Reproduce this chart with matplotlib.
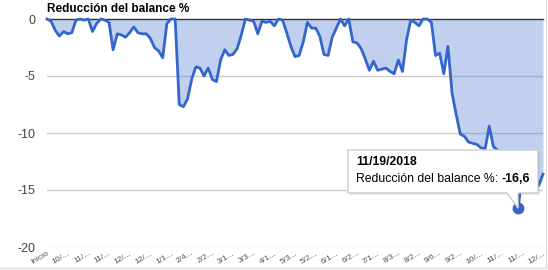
import matplotlib
matplotlib.use("Agg")
import matplotlib.pyplot as plt
from matplotlib.patches import Polygon
import numpy as np

plt.rcParams['font.family'] = ['Liberation Sans', 'DejaVu Sans']

# ---------------- data ----------------
title = "Reducción del balance %"
tick_labels = ["Inicio", "10/...", "11/...", "11/...", "12/...", "12/...", "1/1...",
               "2/4...", "2/2...", "3/1...", "3/3...", "4/1...", "5/3...", "5/2...",
               "6/1...", "6/2...", "7/1...", "8/3...", "8/2...", "9/6...", "9/2...",
               "10/...", "11/...", "11/...", "12/..."]
drawdown = [0, -0.2, -1.0, -1.5, -1.1, -1.3, -1.2, -0.1, 0, -0.1,
            0, -1.1, -0.4, 0, -0.1, -0.3, -2.7, -1.3, -1.4, -1.6,
            -1.2, -0.7, -1.2, -1.3, -1.3, -1.7, -2.5, -2.8, -3.4, -0.4,
            0, 0, -7.5, -7.7, -7.0, -5.3, -4.2, -4.3, -5.0, -4.3,
            -5.3, -5.5, -3.6, -2.7, -3.2, -3.1, -2.6, -1.4, 0, -0.1,
            -0.2, -1.3, -0.2, -0.3, -0.2, -0.6, 0, -0.1, -1.2, -2.4,
            -3.3, -3.2, -2.0, -0.3, -0.8, -0.8, -1.5, -3.1, -3.2, -1.6,
            -0.8, 0, -0.6, 0, -2.0, -2.1, -2.6, -3.5, -4.5, -3.7,
            -4.5, -4.4, -4.3, -4.6, -4.8, -3.6, -4.6, -1.8, -0.1, -0.3,
            -0.6, 0, 0, -0.3, -3.2, -3.0, -4.8, -2.4, -6.5, -8.4,
            -10.1, -10.3, -10.8, -10.9, -11.0, -11.3, -11.4, -9.4, -11.2, -11.5,
            -12.0, -12.6, -13.2, -13.6, -16.6, -13.5, -13.8, -14.0, -14.2, -14.6,
            -13.6]
label_step = 5
y_ticks = [0, -5, -10, -15, -20]
tooltip_index = 114
tooltip_date = "11/19/2018"
tooltip_series = "Reducción del balance %: "
tooltip_value = "-16,6"

# ---------------- figure ----------------
W, H = 548, 270
fig = plt.figure(figsize=(W / 100, H / 100), dpi=100)
fig.patch.set_facecolor('white')

def fx(px):
    return px / W

def fy(py):
    return 1 - py / H

left, right, top, bottom = 47, 543, 19, 247
ax = fig.add_axes([fx(left), fy(bottom), fx(right - left), (bottom - top) / H])

x = np.arange(len(drawdown))
line_color = '#3366cc'
ax.fill_between(x, drawdown, 0, color=line_color, alpha=0.3, linewidth=0, zorder=2)
for t in y_ticks[1:]:
    ax.axhline(t, color='#cccccc', lw=1, zorder=1)
ax.axhline(0, color='#333333', lw=1, zorder=3, clip_on=False)
ax.plot(x, drawdown, color=line_color, lw=2, zorder=4, clip_on=False,
        solid_joinstyle='round')

ax.set_xlim(0, len(drawdown) - 1)
ax.set_ylim(-20, 0)
for s in ax.spines.values():
    s.set_visible(False)

ax.set_yticks(y_ticks)
ax.set_yticklabels([str(v) for v in y_ticks], fontsize=9, color='#444444')
ax.tick_params(axis='y', length=0, pad=8.5)

ax.set_xticks(x[::label_step])
ax.set_xticklabels(tick_labels, rotation=30, ha='right', va='top',
                   rotation_mode='anchor', fontsize=6, color='#555555')
ax.tick_params(axis='x', length=0, pad=2)

fig.text(fx(47), fy(9), title, fontsize=8.5, fontweight='bold',
         ha='left', va='center', color='#000000')

# container border (right / bottom)
fig.add_artist(plt.Line2D([fx(545.5), fx(545.5)], [fy(0), fy(267.5)],
                          color='#dddddd', lw=1, transform=fig.transFigure))
fig.add_artist(plt.Line2D([fx(0), fx(545.5)], [fy(267.5), fy(267.5)],
                          color='#dddddd', lw=1, transform=fig.transFigure))

# ---------------- tooltip ----------------
tip_disp = ax.transData.transform((tooltip_index, drawdown[tooltip_index]))
tip_fig = fig.transFigure.inverted().transform(tip_disp)

bx0, bx1, by0, by1 = 348, 538, 150, 193
pl, pr = 507, 518
poly_pts = [(fx(bx0), fy(by0)), (fx(bx1), fy(by0)), (fx(bx1), fy(by1)),
            (fx(pr), fy(by1)), (tip_fig[0], tip_fig[1]), (fx(pl), fy(by1)),
            (fx(bx0), fy(by1))]
for off, a in [(2, 0.06), (1, 0.10)]:
    sh = [(p[0] + off / W, p[1] - off / H) for p in poly_pts]
    fig.add_artist(Polygon(sh, closed=True, transform=fig.transFigure,
                           facecolor='#000000', edgecolor='none', alpha=a, zorder=8))
fig.add_artist(Polygon(poly_pts, closed=True, transform=fig.transFigure,
                       facecolor='white', edgecolor='#cccccc', lw=1, zorder=9))

ax.plot(tooltip_index, drawdown[tooltip_index], 'o', ms=7.5, color=line_color,
        zorder=10, clip_on=False)

fig.text(fx(356), fy(162), tooltip_date, fontsize=8.8, fontweight='bold',
         ha='left', va='center', color='#000000', zorder=11)
t1 = fig.text(fx(356), fy(179), tooltip_series, fontsize=8.8,
              ha='left', va='center', color='#000000', zorder=11)
fig.canvas.draw()
r = fig.canvas.get_renderer()
ext = t1.get_window_extent(renderer=r)
fig.text(ext.x1 / (W), fy(179), tooltip_value, fontsize=8.8, fontweight='bold',
         ha='left', va='center', color='#000000', zorder=11)

fig.savefig('out.png', dpi=100)
